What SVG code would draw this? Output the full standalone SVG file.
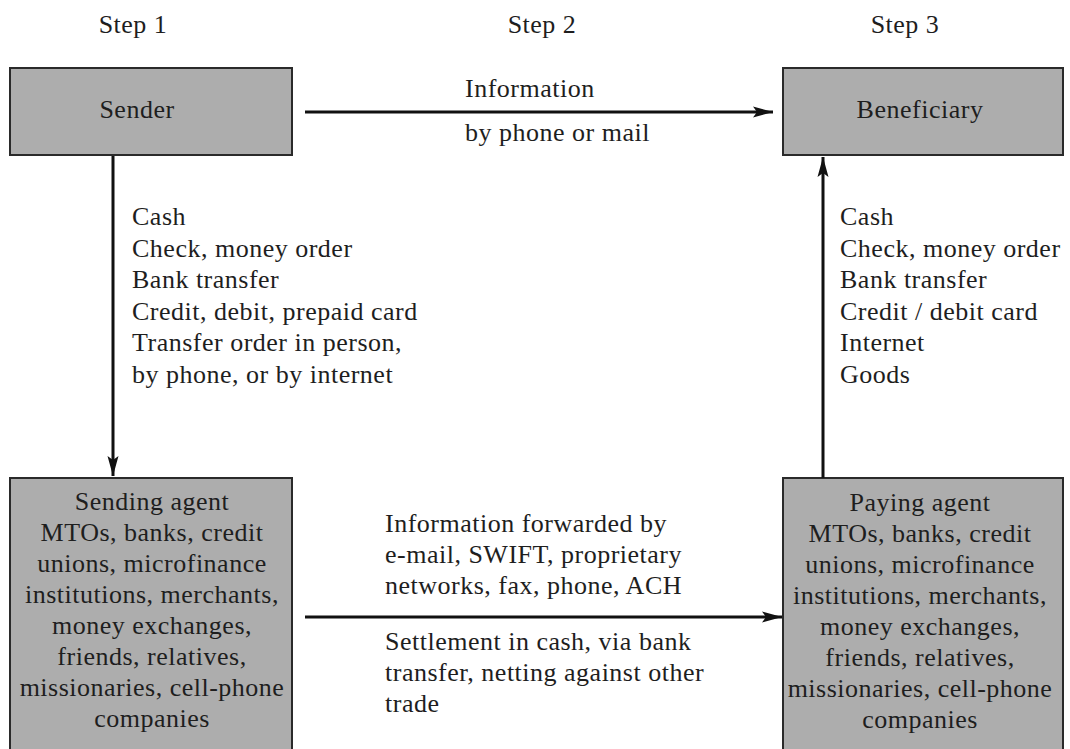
<svg xmlns="http://www.w3.org/2000/svg" width="1070" height="749" viewBox="0 0 1070 749">
<style>
  text { font-family: "Liberation Serif", "DejaVu Serif", serif; fill: #1e1e1e; font-size: 26px; letter-spacing: 0.5px; }
  .step { text-anchor: middle; }
  .box { fill: #adadad; stroke: #2a2a2a; stroke-width: 2; }
  .mid { text-anchor: middle; }
  .conn { stroke: #111; stroke-width: 3; fill: none; marker-end: url(#arrow); }
</style>
<defs>
  <marker id="arrow" markerUnits="userSpaceOnUse" markerWidth="22" markerHeight="12" refX="20" refY="6" orient="auto">
    <path d="M0,0.5 L20,6 L0,11.5 L4,6 Z" fill="#111"/>
  </marker>
</defs>
<rect width="1070" height="749" fill="#ffffff"/>

<g id="step-labels">
  <text class="step" x="133" y="33">Step 1</text>
  <text class="step" x="542" y="33">Step 2</text>
  <text class="step" x="905" y="33">Step 3</text>
</g>

<g id="sender">
  <rect class="box" x="10" y="68" width="282" height="87"/>
  <text class="mid" x="137" y="118">Sender</text>
</g>

<g id="beneficiary">
  <rect class="box" x="783" y="68" width="280" height="87"/>
  <text class="mid" x="920" y="118">Beneficiary</text>
</g>

<g id="sending-agent">
  <rect class="box" x="10" y="478" width="282" height="290"/>
  <text class="mid" x="152" y="510">Sending agent</text>
  <text class="mid" x="152" y="541">MTOs, banks, credit</text>
  <text class="mid" x="152" y="572">unions, microfinance</text>
  <text class="mid" x="152" y="603">institutions, merchants,</text>
  <text class="mid" x="152" y="634">money exchanges,</text>
  <text class="mid" x="152" y="665">friends, relatives,</text>
  <text class="mid" x="152" y="696">missionaries, cell-phone</text>
  <text class="mid" x="152" y="727">companies</text>
</g>

<g id="paying-agent">
  <rect class="box" x="783" y="478" width="280" height="290"/>
  <text class="mid" x="920" y="511">Paying agent</text>
  <text class="mid" x="920" y="542">MTOs, banks, credit</text>
  <text class="mid" x="920" y="573">unions, microfinance</text>
  <text class="mid" x="920" y="604">institutions, merchants,</text>
  <text class="mid" x="920" y="635">money exchanges,</text>
  <text class="mid" x="920" y="666">friends, relatives,</text>
  <text class="mid" x="920" y="697">missionaries, cell-phone</text>
  <text class="mid" x="920" y="728">companies</text>
</g>

<g id="connectors">
  <line class="conn" x1="305" y1="112" x2="773" y2="112"/>
  <line class="conn" x1="113" y1="156" x2="113" y2="476"/>
  <line class="conn" x1="823" y1="478" x2="823" y2="157"/>
  <line class="conn" x1="305" y1="617" x2="782" y2="617"/>
</g>

<g id="connector-labels">
  <text x="465" y="97">Information</text>
  <text x="465" y="141">by phone or mail</text>

  <text x="132" y="225">Cash</text>
  <text x="132" y="257">Check, money order</text>
  <text x="132" y="288">Bank transfer</text>
  <text x="132" y="320">Credit, debit, prepaid card</text>
  <text x="132" y="351">Transfer order in person,</text>
  <text x="132" y="383">by phone, or by internet</text>

  <text x="840" y="225">Cash</text>
  <text x="840" y="257">Check, money order</text>
  <text x="840" y="288">Bank transfer</text>
  <text x="840" y="320">Credit / debit card</text>
  <text x="840" y="351">Internet</text>
  <text x="840" y="383">Goods</text>

  <text x="385" y="532">Information forwarded by</text>
  <text x="385" y="563">e-mail, SWIFT, proprietary</text>
  <text x="385" y="594">networks, fax, phone, ACH</text>
  <text x="385" y="650">Settlement in cash, via bank</text>
  <text x="385" y="681">transfer, netting against other</text>
  <text x="385" y="712">trade</text>
</g>
</svg>
